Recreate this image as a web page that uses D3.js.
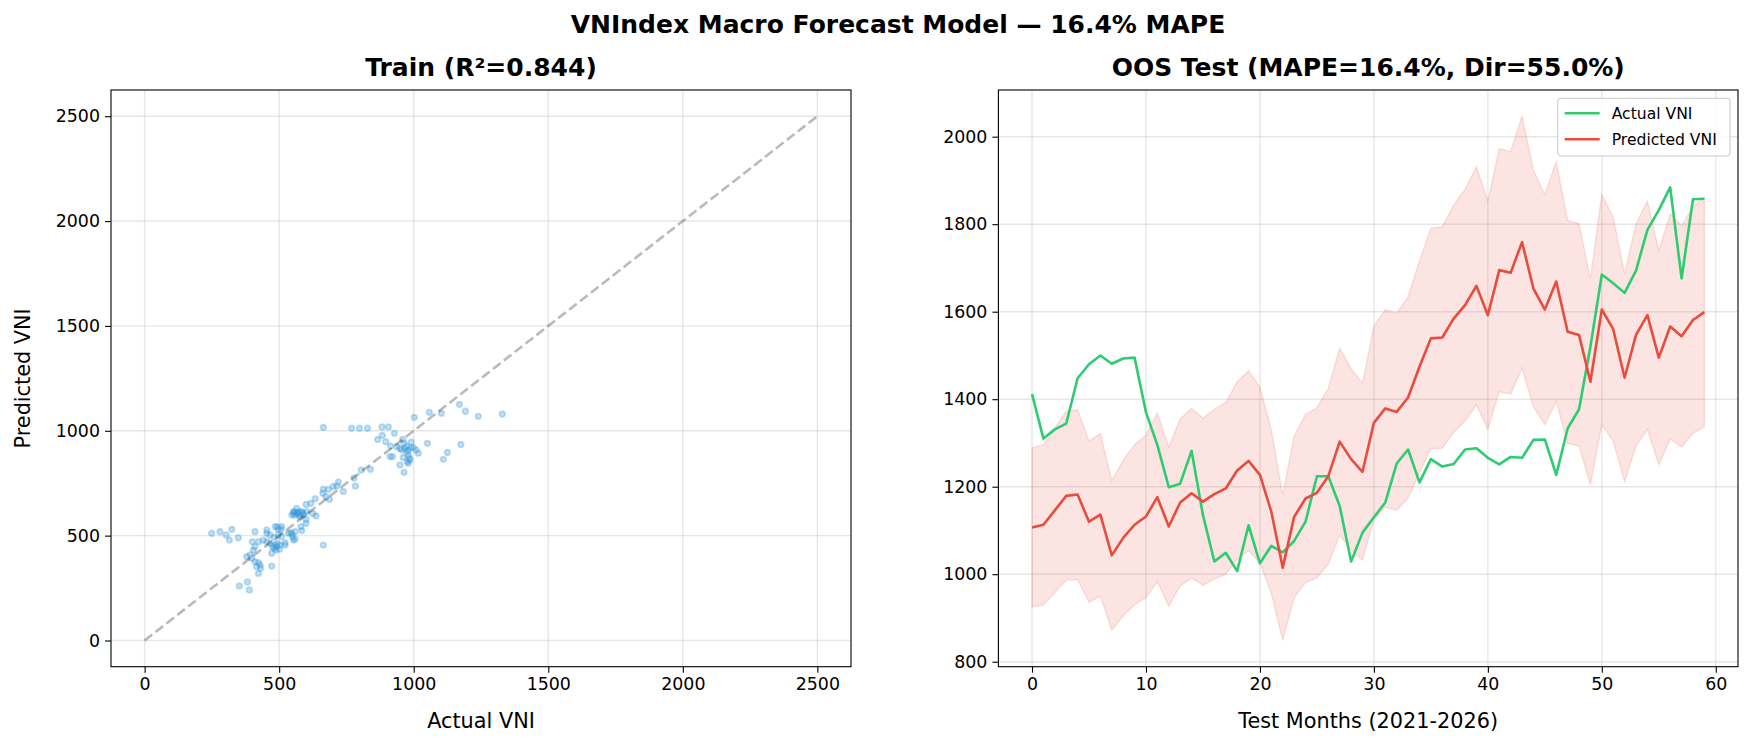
<!DOCTYPE html>
<html>
<head>
<meta charset="utf-8">
<script src="https://cdn.jsdelivr.net/npm/d3@7"></script>
<style>
  body { margin: 0; background: #ffffff; }
  svg text { font-family: "DejaVu Sans", sans-serif; fill: #000; }
</style>
</head>
<body>
<div id="chart"></div>
<script>
const w = 1753;
const h = 745;

// train scatter (actual vs predicted)
const trainActual = [664,769,798,828,882,906,928,866,883,896,914,959,964,974,991,999,1009,1017,990,949,937,955,980,984,976,980,949,921,912,964,961,1002,1058,1103,1170,1192,1240,1329,1051,1175,1125,1110,967,980,974,986,
  839,805,778,783,738,720,714,701,683,664,662,674,687,634,618,600,637,625,602,590,565,553,547,577,568,558,600,600,584,581,559,553,547,543,664,571,584,559,575,590,553,577,534,550,559,
  509,493,485,454,454,466,481,497,509,522,522,503,491,481,472,488,501,466,454,441,423,410,400,410,404,392,379,398,410,423,429,423,431,416,472,352,382,389,497,507,485,476,493,
  249,280,303,315,324,348];
const trainPred = [1016,1012,1012,1012,1018,1018,988,959,978,948,927,959,940,927,946,920,908,893,920,916,924,908,885,869,853,845,837,877,877,802,873,1064,1088,1083,1126,1093,1069,1080,940,935,897,864,916,908,900,861,
  816,813,775,737,711,756,737,734,721,722,702,686,673,676,654,649,594,606,614,606,630,606,598,590,606,614,578,559,524,543,519,479,508,514,455,610,614,598,598,598,614,614,511,495,484,
  543,543,543,527,511,503,492,503,495,466,455,455,447,440,416,431,435,463,471,479,471,519,471,447,431,408,400,392,376,371,360,320,344,352,355,260,279,241,530,530,455,447,463,
  511,519,503,479,530,490];
const diagLine = [0, 2500];

// OOS test
const testMonths = d3.range(60);
const actualVNI = [1412,1310,1331,1344,1448,1480,1500,1481,1493,1495,1370,1295,1199,1207,1282,1135,1029,1049,1007,1112,
  1025,1065,1050,1076,1120,1224,1224,1156,1029,1095,1130,1164,1253,1285,1210,1263,1246,1252,1285,1288,
  1266,1251,1268,1266,1307,1308,1227,1333,1377,1520,1685,1665,1643,1694,1787,1832,1884,1676,1857,1858];
const predictedVNI = [1107,1113,1146,1179,1182,1120,1136,1043,1083,1113,1132,1176,1109,1164,1185,1166,1183,1196,1237,1259,
  1227,1143,1015,1131,1173,1186,1224,1303,1263,1234,1346,1379,1371,1404,1474,1539,1541,1584,1615,1659,
  1592,1695,1689,1759,1653,1605,1669,1554,1547,1440,1605,1560,1449,1547,1592,1495,1566,1544,1581,1599];
const upperBand = [1289,1296,1334,1372,1376,1304,1322,1214,1261,1296,1318,1369,1291,1355,1379,1357,1377,1392,1440,1465,
  1428,1330,1181,1316,1365,1380,1425,1517,1470,1436,1567,1605,1596,1634,1716,1791,1794,1844,1880,1931,
  1853,1973,1966,2047,1924,1868,1943,1809,1801,1676,1868,1816,1687,1801,1853,1740,1823,1797,1840,1861];
const lowerBand = [925,930,958,986,988,936,950,872,905,930,946,983,927,973,991,975,989,1000,1034,1053,
  1026,956,849,946,981,992,1023,1089,1056,1032,1125,1153,1146,1174,1232,1287,1288,1324,1350,1387,
  1331,1417,1412,1471,1382,1342,1395,1299,1293,1204,1342,1304,1211,1293,1331,1250,1309,1291,1322,1337];

const leftTicks = [0, 500, 1000, 1500, 2000, 2500];
const rightXTicks = [0, 10, 20, 30, 40, 50, 60];
const rightYTicks = [800, 1000, 1200, 1400, 1600, 1800, 2000];

const green = "#2ecc71";
const red = "#e74c3c";
const blue = "#3498db";

let svg = d3.select("#chart").append("svg")
    .attr("width", w).attr("height", h)
    .style("background-color", "#ffffff");

const plotTop = 90, plotBottom = 666.7;

// main title
svg.append("text")
    .attr("x", 898).attr("y", 33)
    .attr("text-anchor", "middle")
    .style("font-size", "25px").style("font-weight", "bold")
    .text("VNIndex Macro Forecast Model \u2014 16.4% MAPE");

const styleAxis = (g) => {
    g.selectAll(".domain").remove();
    g.selectAll(".tick line").attr("stroke", "#000").attr("stroke-width", 1.1);
    g.selectAll(".tick text").style("font-size", "17.4px").attr("fill", "#000");
};

const drawGrid = (x0, x1, xs, ys, xt, yt) => {
    let g = svg.append("g");
    g.selectAll("line.gx").data(xt).join("line").attr("class", "gx")
        .attr("x1", d => xs(d)).attr("x2", d => xs(d))
        .attr("y1", plotTop).attr("y2", plotBottom)
        .attr("stroke", "#b0b0b0").attr("stroke-opacity", 0.3).attr("stroke-width", 1.4);
    g.selectAll("line.gy").data(yt).join("line").attr("class", "gy")
        .attr("y1", d => ys(d)).attr("y2", d => ys(d))
        .attr("x1", x0).attr("x2", x1)
        .attr("stroke", "#b0b0b0").attr("stroke-opacity", 0.3).attr("stroke-width", 1.4);
};

const drawAxes = (x0, x1, xs, ys, xt, yt) => {
    let ax = svg.append("g").attr("transform", `translate(0,${plotBottom})`)
        .call(d3.axisBottom(xs).tickValues(xt).tickSize(6).tickPadding(5).tickFormat(d3.format("d")));
    styleAxis(ax);
    let ay = svg.append("g").attr("transform", `translate(${x0},0)`)
        .call(d3.axisLeft(ys).tickValues(yt).tickSize(6).tickPadding(5).tickFormat(d3.format("d")));
    styleAxis(ay);
    svg.append("rect")
        .attr("x", x0).attr("y", plotTop).attr("width", x1 - x0).attr("height", plotBottom - plotTop)
        .attr("fill", "none").attr("stroke", "#000").attr("stroke-width", 1.1);
};

// ---------- left: train scatter ----------
const lx0 = 111, lx1 = 851;
const xL = d3.scaleLinear().domain([-125, 2625]).range([lx0, lx1]);
const yL = d3.scaleLinear().domain([-125, 2625]).range([plotBottom, plotTop]);

drawGrid(lx0, lx1, xL, yL, leftTicks, leftTicks);

svg.append("g").selectAll("circle")
    .data(trainActual.map((a, i) => [a, trainPred[i]]))
    .join("circle")
    .attr("cx", d => xL(d[0])).attr("cy", d => yL(d[1]))
    .attr("r", 2.8)
    .attr("fill", blue).attr("fill-opacity", 0.3)
    .attr("stroke", blue).attr("stroke-opacity", 0.3).attr("stroke-width", 1.7);

svg.append("line")
    .attr("x1", xL(diagLine[0])).attr("y1", yL(diagLine[0]))
    .attr("x2", xL(diagLine[1])).attr("y2", yL(diagLine[1]))
    .attr("stroke", "#000").attr("stroke-opacity", 0.27)
    .attr("stroke-width", 2.6).attr("stroke-dasharray", "9.6,4.2");

drawAxes(lx0, lx1, xL, yL, leftTicks, leftTicks);

svg.append("text").attr("x", (lx0 + lx1) / 2).attr("y", 76)
    .attr("text-anchor", "middle")
    .style("font-size", "25px").style("font-weight", "bold")
    .text("Train (R\u00b2=0.844)");
svg.append("text").attr("x", (lx0 + lx1) / 2).attr("y", 728)
    .attr("text-anchor", "middle").style("font-size", "20.8px")
    .text("Actual VNI");
svg.append("text")
    .attr("transform", `translate(30,${(plotTop + plotBottom) / 2}) rotate(-90)`)
    .attr("text-anchor", "middle").style("font-size", "20.8px")
    .text("Predicted VNI");

// ---------- right: OOS test ----------
const rx0 = 998.4, rx1 = 1738;
const xR = d3.scaleLinear().domain([-2.95, 61.95]).range([rx0, rx1]);
const yR = d3.scaleLinear().domain([788.6, 2106.7]).range([plotBottom, plotTop]);

drawGrid(rx0, rx1, xR, yR, rightXTicks, rightYTicks);

const area = d3.area()
    .x((d, i) => xR(testMonths[i]))
    .y0((d, i) => yR(lowerBand[i]))
    .y1((d, i) => yR(upperBand[i]));
svg.append("path").datum(testMonths)
    .attr("d", area)
    .attr("fill", red).attr("fill-opacity", 0.15)
    .attr("stroke", red).attr("stroke-opacity", 0.15).attr("stroke-width", 1.4);

const line = (vals) => d3.line().x((d, i) => xR(testMonths[i])).y(d => yR(d))(vals);
svg.append("path").attr("d", line(actualVNI))
    .attr("fill", "none").attr("stroke", green).attr("stroke-width", 2.6).attr("stroke-linejoin", "round");
svg.append("path").attr("d", line(predictedVNI))
    .attr("fill", "none").attr("stroke", red).attr("stroke-width", 2.6).attr("stroke-linejoin", "round");

drawAxes(rx0, rx1, xR, yR, rightXTicks, rightYTicks);

svg.append("text").attr("x", (rx0 + rx1) / 2).attr("y", 76)
    .attr("text-anchor", "middle")
    .style("font-size", "25px").style("font-weight", "bold")
    .text("OOS Test (MAPE=16.4%, Dir=55.0%)");
svg.append("text").attr("x", (rx0 + rx1) / 2).attr("y", 728)
    .attr("text-anchor", "middle").style("font-size", "20.8px")
    .text("Test Months (2021-2026)");

// legend
const legendItems = [["Actual VNI", green], ["Predicted VNI", red]];
let lg = svg.append("g").attr("transform", "translate(1557.7,98.3)");
lg.append("rect").attr("width", 172.3).attr("height", 57.7).attr("rx", 3.5)
    .attr("fill", "#fff").attr("fill-opacity", 0.8)
    .attr("stroke", "#cccccc").attr("stroke-width", 1.1);
lg.selectAll("g.item").data(legendItems).join("g").attr("class", "item")
    .attr("transform", (d, i) => `translate(0,${15 + i * 26})`)
    .each(function (d) {
        let g = d3.select(this);
        g.append("line").attr("x1", 7).attr("x2", 42).attr("y1", 0).attr("y2", 0)
            .attr("stroke", d[1]).attr("stroke-width", 2.6);
        g.append("text").attr("x", 54).attr("y", 5.5).style("font-size", "15.6px").text(d[0]);
    });
</script>
</body>
</html>
